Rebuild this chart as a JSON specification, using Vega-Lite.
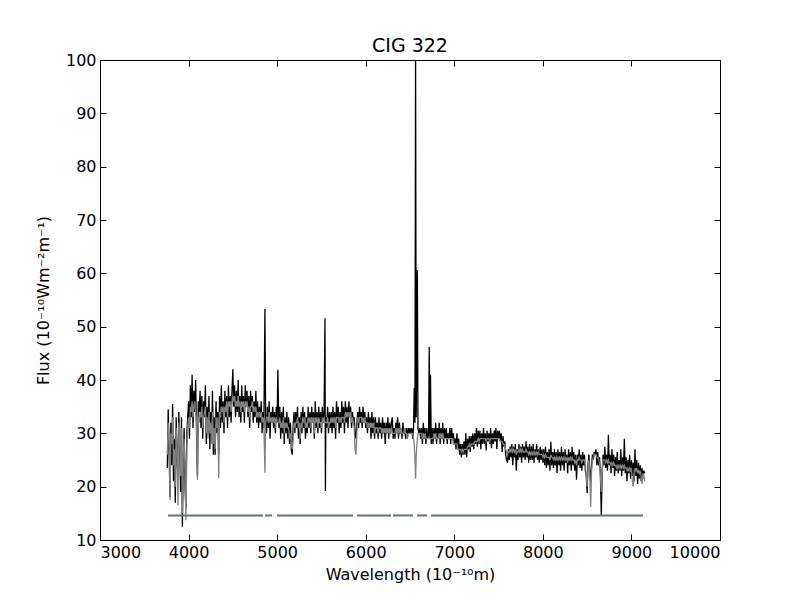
{
  "$schema": "https://vega.github.io/schema/vega-lite/v6.json",
  "width": 620,
  "height": 480,
  "autosize": {"type": "none"},
  "padding": {"left": 100, "top": 60, "right": 80, "bottom": 60},
  "background": "white",
  "title": {"text": "CIG 322", "font": "DejaVu Sans", "fontSize": 19, "fontWeight": "normal", "color": "black", "offset": -4},
  "config": {
    "view": {"stroke": "black", "strokeWidth": 1},
    "axis": {
      "grid": false,
      "domainColor": "black",
      "tickColor": "black",
      "tickSize": -6,
      "labelFont": "DejaVu Sans",
      "labelFontSize": 16,
      "labelColor": "black",
      "titleFont": "DejaVu Sans",
      "titleFontSize": 16,
      "titleFontWeight": "normal",
      "titleColor": "black"
    }
  },
  "datasets": {
    "spec": [
      {"w":3760,"o":23.5,"m":26},{"w":3770,"o":34.5,"m":32},{"w":3780,"o":27,"m":29},{"w":3790,"o":18,"m":17.5},
      {"w":3800,"o":32,"m":30},{"w":3810,"o":24,"m":28},{"w":3820,"o":35.5,"m":33},{"w":3830,"o":21,"m":24},
      {"w":3840,"o":29,"m":27},{"w":3850,"o":17,"m":20},{"w":3860,"o":33,"m":31},{"w":3870,"o":25,"m":27},
      {"w":3880,"o":22,"m":16.5},{"w":3890,"o":34,"m":32},{"w":3900,"o":28,"m":30},{"w":3910,"o":19,"m":22},
      {"w":3920,"o":33,"m":31},{"w":3930,"o":12.5,"m":15},{"w":3940,"o":24,"m":26},{"w":3950,"o":31,"m":29},
      {"w":3960,"o":20,"m":23},{"w":3970,"o":16,"m":13.7},{"w":3980,"o":30,"m":27},{"w":3990,"o":33,"m":31},
      {"w":4000,"o":36,"m":33},{"w":4010,"o":29,"m":31},{"w":4020,"o":39,"m":35},{"w":4030,"o":33,"m":34},
      {"w":4040,"o":41,"m":36},{"w":4050,"o":31,"m":33},{"w":4060,"o":38,"m":35},{"w":4070,"o":34,"m":36},
      {"w":4080,"o":40,"m":34},{"w":4090,"o":30,"m":32},{"w":4100,"o":22,"m":21.3},{"w":4110,"o":36,"m":33},
      {"w":4120,"o":34,"m":32},{"w":4130,"o":38,"m":34},{"w":4140,"o":31,"m":33},{"w":4150,"o":37,"m":35},
      {"w":4160,"o":29,"m":31},{"w":4170,"o":36,"m":33},{"w":4180,"o":33,"m":34},{"w":4190,"o":39,"m":35},
      {"w":4200,"o":28,"m":30},{"w":4210,"o":35,"m":33},{"w":4220,"o":30,"m":29},{"w":4230,"o":37,"m":34},
      {"w":4240,"o":27,"m":30},{"w":4250,"o":34,"m":32},{"w":4260,"o":29,"m":28},{"w":4270,"o":38,"m":34},
      {"w":4280,"o":26,"m":28},{"w":4290,"o":33,"m":31},{"w":4300,"o":26,"m":27},{"w":4310,"o":36,"m":33},
      {"w":4320,"o":30,"m":31},{"w":4330,"o":34,"m":33},{"w":4340,"o":26,"m":21.6},{"w":4350,"o":37,"m":34},
      {"w":4360,"o":31,"m":33},{"w":4370,"o":39,"m":35},{"w":4380,"o":32,"m":34},{"w":4390,"o":36,"m":35},
      {"w":4400,"o":30,"m":32},{"w":4410,"o":38,"m":35},{"w":4420,"o":33,"m":34},{"w":4430,"o":37,"m":36},
      {"w":4440,"o":31,"m":33},{"w":4450,"o":39,"m":36},{"w":4460,"o":33,"m":35},{"w":4470,"o":37,"m":36},
      {"w":4480,"o":32,"m":34},{"w":4490,"o":38,"m":36},{"w":4500,"o":42,"m":37},{"w":4510,"o":35,"m":36},
      {"w":4520,"o":39,"m":37},{"w":4530,"o":33,"m":35},{"w":4540,"o":38,"m":36},{"w":4550,"o":34,"m":35},
      {"w":4560,"o":40,"m":37},{"w":4570,"o":33,"m":35},{"w":4580,"o":37,"m":36},{"w":4590,"o":32,"m":34},
      {"w":4600,"o":39,"m":36},{"w":4610,"o":34,"m":35},{"w":4620,"o":37,"m":36},{"w":4630,"o":32,"m":34},
      {"w":4640,"o":39,"m":36},{"w":4650,"o":35,"m":35},{"w":4660,"o":38,"m":36},{"w":4670,"o":33,"m":34},
      {"w":4680,"o":37,"m":35},{"w":4690,"o":31,"m":33},{"w":4700,"o":38,"m":35},{"w":4710,"o":34,"m":35},
      {"w":4720,"o":37,"m":36},{"w":4730,"o":32,"m":34},{"w":4740,"o":36,"m":35},{"w":4750,"o":33,"m":34},
      {"w":4760,"o":38,"m":35},{"w":4770,"o":32,"m":33},{"w":4780,"o":36,"m":34},{"w":4790,"o":31,"m":33},
      {"w":4800,"o":35,"m":34},{"w":4810,"o":32,"m":33},{"w":4820,"o":36,"m":34},{"w":4830,"o":30,"m":32},
      {"w":4840,"o":34,"m":33},{"w":4850,"o":31,"m":32},{"w":4862,"o":53.3,"m":22.6},{"w":4870,"o":33,"m":32},
      {"w":4880,"o":30,"m":33},{"w":4890,"o":35,"m":33},{"w":4900,"o":31,"m":32},{"w":4910,"o":36,"m":34},
      {"w":4920,"o":29,"m":32},{"w":4930,"o":34,"m":33},{"w":4940,"o":32,"m":32},{"w":4950,"o":35,"m":33},
      {"w":4960,"o":31,"m":32},{"w":4970,"o":34,"m":33},{"w":4980,"o":30,"m":31},{"w":4990,"o":35,"m":33},
      {"w":5000,"o":32,"m":32},{"w":5008,"o":41.9,"m":32},{"w":5020,"o":31,"m":32},{"w":5030,"o":35,"m":33},
      {"w":5040,"o":29,"m":31},{"w":5050,"o":34,"m":32},{"w":5060,"o":30,"m":31},{"w":5070,"o":35,"m":33},
      {"w":5080,"o":28,"m":30},{"w":5090,"o":33,"m":32},{"w":5100,"o":30,"m":31},{"w":5110,"o":34,"m":32},
      {"w":5120,"o":29,"m":31},{"w":5130,"o":33,"m":31},{"w":5140,"o":28,"m":29},{"w":5150,"o":32,"m":30},
      {"w":5160,"o":27,"m":28},{"w":5170,"o":26,"m":27},{"w":5180,"o":31,"m":29},{"w":5190,"o":34,"m":32},
      {"w":5200,"o":30,"m":31},{"w":5210,"o":34,"m":32},{"w":5220,"o":31,"m":32},{"w":5230,"o":35,"m":33},
      {"w":5240,"o":29,"m":31},{"w":5250,"o":33,"m":32},{"w":5260,"o":28,"m":29},{"w":5270,"o":34,"m":32},
      {"w":5280,"o":30,"m":31},{"w":5290,"o":35,"m":33},{"w":5300,"o":31,"m":32},{"w":5310,"o":34,"m":33},
      {"w":5320,"o":29,"m":31},{"w":5330,"o":33,"m":32},{"w":5340,"o":30,"m":31},{"w":5350,"o":35,"m":33},
      {"w":5360,"o":31,"m":32},{"w":5370,"o":34,"m":33},{"w":5380,"o":30,"m":31},{"w":5390,"o":35,"m":33},
      {"w":5400,"o":32,"m":32},{"w":5410,"o":34,"m":33},{"w":5420,"o":29,"m":30},{"w":5430,"o":36,"m":33},
      {"w":5440,"o":31,"m":32},{"w":5450,"o":34,"m":33},{"w":5460,"o":30,"m":31},{"w":5470,"o":35,"m":33},
      {"w":5480,"o":31,"m":32},{"w":5490,"o":34,"m":32},{"w":5500,"o":30,"m":31},{"w":5510,"o":35,"m":33},
      {"w":5520,"o":32,"m":32},{"w":5530,"o":34,"m":33},{"w":5540,"o":51.6,"m":32},{"w":5545,"o":19.2,"m":32},
      {"w":5550,"o":33,"m":32},{"w":5560,"o":31,"m":32},{"w":5570,"o":35,"m":33},{"w":5580,"o":30,"m":31},
      {"w":5590,"o":34,"m":32},{"w":5600,"o":31,"m":32},{"w":5610,"o":34,"m":33},{"w":5620,"o":30,"m":32},
      {"w":5630,"o":35,"m":33},{"w":5640,"o":31,"m":32},{"w":5650,"o":34,"m":33},{"w":5660,"o":29,"m":31},
      {"w":5670,"o":36,"m":33},{"w":5680,"o":32,"m":33},{"w":5690,"o":35,"m":33},{"w":5700,"o":30,"m":32},
      {"w":5710,"o":34,"m":33},{"w":5720,"o":31,"m":32},{"w":5730,"o":36,"m":33},{"w":5740,"o":32,"m":33},
      {"w":5750,"o":35,"m":33},{"w":5760,"o":30,"m":32},{"w":5770,"o":36,"m":34},{"w":5780,"o":32,"m":33},
      {"w":5790,"o":35,"m":34},{"w":5800,"o":31,"m":33},{"w":5810,"o":36,"m":34},{"w":5820,"o":33,"m":33},
      {"w":5830,"o":35,"m":34},{"w":5840,"o":31,"m":32},{"w":5850,"o":34,"m":33},{"w":5860,"o":32,"m":32},
      {"w":5870,"o":33,"m":31},{"w":5880,"o":30,"m":27},{"w":5890,"o":29,"m":26},{"w":5900,"o":32,"m":30},
      {"w":5910,"o":34,"m":33},{"w":5920,"o":31,"m":32},{"w":5930,"o":35,"m":33},{"w":5940,"o":32,"m":33},
      {"w":5950,"o":34,"m":33},{"w":5960,"o":31,"m":32},{"w":5970,"o":35,"m":33},{"w":5980,"o":32,"m":32},
      {"w":5990,"o":34,"m":33},{"w":6000,"o":31,"m":32},{"w":6010,"o":33,"m":32},{"w":6020,"o":30,"m":31},
      {"w":6030,"o":34,"m":32},{"w":6040,"o":31,"m":31},{"w":6050,"o":33,"m":32},{"w":6060,"o":29,"m":31},
      {"w":6070,"o":34,"m":32},{"w":6080,"o":30,"m":31},{"w":6090,"o":33,"m":32},{"w":6100,"o":29,"m":30},
      {"w":6110,"o":33,"m":31},{"w":6120,"o":30,"m":31},{"w":6130,"o":32,"m":31},{"w":6140,"o":29,"m":30},
      {"w":6150,"o":33,"m":31},{"w":6160,"o":30,"m":31},{"w":6170,"o":32,"m":31},{"w":6180,"o":29,"m":30},
      {"w":6190,"o":33,"m":31},{"w":6200,"o":30,"m":30},{"w":6210,"o":32,"m":31},{"w":6220,"o":28,"m":30},
      {"w":6230,"o":32,"m":31},{"w":6240,"o":30,"m":30},{"w":6250,"o":33,"m":31},{"w":6260,"o":29,"m":30},
      {"w":6270,"o":32,"m":31},{"w":6280,"o":30,"m":30},{"w":6290,"o":32,"m":31},{"w":6300,"o":33,"m":30},
      {"w":6310,"o":29,"m":30},{"w":6320,"o":31,"m":30},{"w":6330,"o":29,"m":30},{"w":6340,"o":32,"m":31},
      {"w":6350,"o":30,"m":30},{"w":6360,"o":33,"m":31},{"w":6370,"o":29,"m":30},{"w":6380,"o":32,"m":31},
      {"w":6390,"o":30,"m":30},{"w":6400,"o":31,"m":31},{"w":6410,"o":29,"m":30},{"w":6420,"o":32,"m":30},
      {"w":6430,"o":30,"m":30},{"w":6440,"o":31,"m":31},{"w":6450,"o":29,"m":30},{"w":6460,"o":31,"m":30},
      {"w":6470,"o":29,"m":29},{"w":6480,"o":31,"m":30},{"w":6490,"o":30,"m":30},{"w":6500,"o":31,"m":30},
      {"w":6510,"o":30,"m":30},{"w":6520,"o":31,"m":30},{"w":6530,"o":29,"m":30},{"w":6540,"o":31,"m":29},
      {"w":6548,"o":38.5,"m":28},{"w":6556,"o":32,"m":25},{"w":6563,"o":101,"m":21.5},{"w":6570,"o":33,"m":26},
      {"w":6583,"o":60.6,"m":29},{"w":6590,"o":31,"m":30},{"w":6600,"o":30,"m":30},{"w":6610,"o":31,"m":30},
      {"w":6620,"o":29,"m":30},{"w":6630,"o":31,"m":30},{"w":6640,"o":28,"m":29},{"w":6650,"o":32,"m":30},
      {"w":6660,"o":29,"m":29},{"w":6670,"o":31,"m":30},{"w":6680,"o":28,"m":29},{"w":6690,"o":31,"m":29},
      {"w":6700,"o":29,"m":29},{"w":6710,"o":30,"m":29},{"w":6717,"o":46.2,"m":29},{"w":6725,"o":29,"m":29},
      {"w":6731,"o":41,"m":29},{"w":6740,"o":28,"m":29},{"w":6750,"o":31,"m":29},{"w":6760,"o":28,"m":29},
      {"w":6770,"o":31,"m":30},{"w":6780,"o":29,"m":29},{"w":6790,"o":32,"m":30},{"w":6800,"o":28,"m":29},
      {"w":6810,"o":31,"m":29},{"w":6820,"o":29,"m":29},{"w":6830,"o":32,"m":30},{"w":6840,"o":28,"m":29},
      {"w":6850,"o":31,"m":30},{"w":6860,"o":29,"m":29},{"w":6870,"o":32,"m":30},{"w":6880,"o":28,"m":29},
      {"w":6890,"o":31,"m":29},{"w":6900,"o":29,"m":29},{"w":6910,"o":31,"m":29},{"w":6920,"o":28,"m":29},
      {"w":6930,"o":30,"m":29},{"w":6940,"o":29,"m":29},{"w":6950,"o":31,"m":29},{"w":6960,"o":28,"m":29},
      {"w":6970,"o":31,"m":29},{"w":6980,"o":29,"m":29},{"w":6990,"o":30,"m":28},{"w":7000,"o":28,"m":28},
      {"w":7010,"o":29,"m":28},{"w":7020,"o":27,"m":28},{"w":7030,"o":30,"m":28},{"w":7040,"o":27,"m":27},
      {"w":7050,"o":29,"m":27},{"w":7060,"o":26,"m":27},{"w":7070,"o":28,"m":27},{"w":7080,"o":25.5,"m":26.5},
      {"w":7090,"o":28,"m":27},{"w":7100,"o":26,"m":26.5},{"w":7110,"o":28.5,"m":27},{"w":7120,"o":26,"m":27},
      {"w":7130,"o":30,"m":27},{"w":7140,"o":25.5,"m":27},{"w":7150,"o":29,"m":27.5},{"w":7160,"o":27,"m":27.5},
      {"w":7170,"o":29.5,"m":28},{"w":7180,"o":26.5,"m":27.5},{"w":7190,"o":29.5,"m":28},{"w":7200,"o":27.5,"m":28},
      {"w":7210,"o":30,"m":28},{"w":7220,"o":27,"m":28},{"w":7230,"o":30,"m":28.5},{"w":7240,"o":28,"m":28.5},
      {"w":7250,"o":31,"m":28.5},{"w":7260,"o":27.5,"m":28.5},{"w":7270,"o":30.5,"m":29},{"w":7280,"o":28,"m":28.5},
      {"w":7290,"o":30.5,"m":29},{"w":7300,"o":27,"m":29},{"w":7310,"o":30,"m":29},{"w":7320,"o":28,"m":29},
      {"w":7330,"o":31,"m":29},{"w":7340,"o":28,"m":29},{"w":7350,"o":30,"m":29},{"w":7360,"o":26.8,"m":28.5},
      {"w":7370,"o":30.5,"m":29},{"w":7380,"o":28.5,"m":29},{"w":7390,"o":30,"m":29},{"w":7400,"o":28,"m":28.5},
      {"w":7410,"o":31,"m":29},{"w":7420,"o":27.2,"m":29},{"w":7430,"o":30,"m":29},{"w":7440,"o":28,"m":29},
      {"w":7450,"o":30.5,"m":29},{"w":7460,"o":28.5,"m":29},{"w":7470,"o":31,"m":29},{"w":7480,"o":27,"m":29},
      {"w":7490,"o":30.5,"m":29},{"w":7500,"o":29,"m":29},{"w":7510,"o":30.5,"m":29},{"w":7520,"o":28.5,"m":28.5},
      {"w":7530,"o":30,"m":28.5},{"w":7540,"o":26.5,"m":28.5},{"w":7550,"o":29.5,"m":28},{"w":7560,"o":27.5,"m":28},
      {"w":7570,"o":28.5,"m":27.5},{"w":7580,"o":26,"m":27},{"w":7590,"o":25,"m":26.5},{"w":7600,"o":24.5,"m":26},
      {"w":7610,"o":27,"m":26.5},{"w":7620,"o":25,"m":26.5},{"w":7630,"o":27.5,"m":27},{"w":7640,"o":25.5,"m":26.5},
      {"w":7650,"o":28,"m":27},{"w":7660,"o":24,"m":26.5},{"w":7670,"o":27.5,"m":27},{"w":7680,"o":25.5,"m":26.5},
      {"w":7690,"o":28,"m":27},{"w":7700,"o":23,"m":26},{"w":7710,"o":27,"m":26.5},{"w":7720,"o":25,"m":26.5},
      {"w":7730,"o":28,"m":27},{"w":7740,"o":25.5,"m":26.5},{"w":7750,"o":27.5,"m":27},{"w":7760,"o":24.5,"m":26.5},
      {"w":7770,"o":28,"m":27},{"w":7780,"o":25.5,"m":26.5},{"w":7790,"o":27.5,"m":26.5},{"w":7800,"o":25,"m":26.5},
      {"w":7810,"o":28.5,"m":27},{"w":7820,"o":25.5,"m":26.5},{"w":7830,"o":27.5,"m":26.5},{"w":7840,"o":24.5,"m":26},
      {"w":7850,"o":28,"m":26.5},{"w":7860,"o":25,"m":26},{"w":7870,"o":27.5,"m":26.5},{"w":7880,"o":25,"m":26},
      {"w":7890,"o":28,"m":26.5},{"w":7900,"o":24.5,"m":26},{"w":7910,"o":27,"m":26.5},{"w":7920,"o":25.5,"m":26},
      {"w":7930,"o":28,"m":26.5},{"w":7940,"o":25,"m":26},{"w":7950,"o":27,"m":26.5},{"w":7960,"o":24.5,"m":26},
      {"w":7970,"o":27.5,"m":26},{"w":7980,"o":25,"m":26},{"w":7990,"o":27,"m":26},{"w":8000,"o":24.5,"m":25.5},
      {"w":8010,"o":27,"m":26},{"w":8020,"o":24,"m":25.5},{"w":8030,"o":27.5,"m":26},{"w":8040,"o":23.5,"m":25.5},
      {"w":8050,"o":26.5,"m":25.5},{"w":8060,"o":24,"m":25.5},{"w":8070,"o":27,"m":25.5},{"w":8080,"o":23,"m":25},
      {"w":8090,"o":28.4,"m":26},{"w":8100,"o":24,"m":25.5},{"w":8110,"o":26.5,"m":25.5},{"w":8120,"o":23.5,"m":25},
      {"w":8130,"o":27,"m":25.5},{"w":8140,"o":24,"m":25},{"w":8150,"o":26.5,"m":25.5},{"w":8160,"o":22.5,"m":25},
      {"w":8170,"o":27,"m":25.5},{"w":8180,"o":24,"m":25},{"w":8190,"o":26.5,"m":25.5},{"w":8200,"o":23,"m":25},
      {"w":8210,"o":27.5,"m":25.5},{"w":8220,"o":24,"m":25},{"w":8230,"o":26.5,"m":25.5},{"w":8240,"o":23,"m":25},
      {"w":8250,"o":27,"m":25.5},{"w":8260,"o":24.5,"m":25},{"w":8270,"o":26,"m":25.5},{"w":8280,"o":22.5,"m":24.5},
      {"w":8290,"o":27,"m":25.5},{"w":8300,"o":24,"m":25},{"w":8310,"o":26.5,"m":25.5},{"w":8320,"o":23,"m":25},
      {"w":8330,"o":27.5,"m":25.5},{"w":8340,"o":24,"m":25},{"w":8350,"o":26.5,"m":25},{"w":8360,"o":23,"m":24.5},
      {"w":8370,"o":26,"m":25},{"w":8380,"o":21.3,"m":24},{"w":8390,"o":26,"m":25},{"w":8400,"o":24,"m":25},
      {"w":8410,"o":27,"m":25.5},{"w":8420,"o":23.5,"m":25},{"w":8430,"o":26,"m":25},{"w":8440,"o":23,"m":24.5},
      {"w":8450,"o":26.5,"m":25},{"w":8460,"o":24,"m":25},{"w":8470,"o":26,"m":25},{"w":8480,"o":23,"m":24},
      {"w":8490,"o":22,"m":22},{"w":8500,"o":18.8,"m":20},{"w":8510,"o":24,"m":24},{"w":8520,"o":26,"m":25},
      {"w":8530,"o":23,"m":22},{"w":8540,"o":21,"m":16.2},{"w":8550,"o":24,"m":23},{"w":8560,"o":26,"m":25},
      {"w":8570,"o":25,"m":25.5},{"w":8580,"o":26.5,"m":26},{"w":8590,"o":26,"m":26},{"w":8600,"o":27,"m":26},
      {"w":8610,"o":24,"m":25.5},{"w":8620,"o":26.5,"m":25.5},{"w":8630,"o":24,"m":25},{"w":8640,"o":25.5,"m":24.5},
      {"w":8650,"o":22,"m":22},{"w":8660,"o":14.7,"m":19},{"w":8670,"o":23,"m":23},{"w":8680,"o":26,"m":25},
      {"w":8690,"o":24,"m":25},{"w":8700,"o":27.5,"m":25},{"w":8710,"o":23.5,"m":24.5},{"w":8720,"o":26,"m":25},
      {"w":8730,"o":23,"m":24.5},{"w":8740,"o":29.7,"m":25},{"w":8750,"o":24,"m":24.5},{"w":8760,"o":26,"m":24.5},
      {"w":8770,"o":22.5,"m":24},{"w":8780,"o":27,"m":24.5},{"w":8790,"o":23.5,"m":24},{"w":8800,"o":26,"m":24.5},
      {"w":8810,"o":22,"m":24},{"w":8820,"o":25.5,"m":24},{"w":8830,"o":23,"m":23.5},{"w":8840,"o":26.5,"m":24},
      {"w":8850,"o":22.5,"m":23.5},{"w":8860,"o":25,"m":24},{"w":8870,"o":23,"m":23.5},{"w":8880,"o":27,"m":24},
      {"w":8890,"o":22,"m":23.5},{"w":8900,"o":25.5,"m":24},{"w":8910,"o":23,"m":23.5},{"w":8920,"o":29,"m":24},
      {"w":8930,"o":22.5,"m":23.5},{"w":8940,"o":25.5,"m":23.5},{"w":8950,"o":21,"m":23},{"w":8960,"o":25,"m":23.5},
      {"w":8970,"o":22.5,"m":23},{"w":8980,"o":26,"m":23.5},{"w":8990,"o":21.5,"m":23},{"w":9000,"o":25,"m":23.5},
      {"w":9010,"o":22,"m":21},{"w":9020,"o":24.5,"m":20},{"w":9030,"o":21,"m":22.5},{"w":9040,"o":27,"m":23.5},
      {"w":9050,"o":22,"m":23},{"w":9060,"o":25,"m":23.5},{"w":9070,"o":20.5,"m":22.5},{"w":9080,"o":24.5,"m":23},
      {"w":9090,"o":21.5,"m":22.5},{"w":9100,"o":24,"m":23},{"w":9110,"o":21,"m":22},{"w":9120,"o":23.5,"m":20.5},
      {"w":9130,"o":21.5,"m":22.5},{"w":9140,"o":23,"m":22},{"w":9150,"o":22.5,"m":21}
    ],
    "mask": [
      {"a":3768,"b":4842,"v":14.6},{"a":4863,"b":4942,"v":14.6},{"a":4998,"b":5857,"v":14.6},
      {"a":5902,"b":6286,"v":14.6},{"a":6308,"b":6534,"v":14.6},{"a":6579,"b":6692,"v":14.6},
      {"a":6737,"b":9131,"v":14.6}
    ]
  },
  "layer": [
    {
      "data": {"name": "spec"},
      "mark": {"type": "line", "color": "black", "strokeWidth": 1.3, "clip": true},
      "encoding": {
        "x": {"field": "w", "type": "quantitative", "scale": {"domain": [3000, 10000], "nice": false, "zero": false},
              "axis": {"values": [3000,4000,5000,6000,7000,8000,9000,10000], "title": "Wavelength (10⁻¹⁰m)", "labelPadding": 10, "titlePadding": 6, "format": "d"}},
        "y": {"field": "o", "type": "quantitative", "scale": {"domain": [10, 100], "nice": false, "zero": false},
              "axis": {"values": [10,20,30,40,50,60,70,80,90,100], "title": "Flux (10⁻¹⁰Wm⁻²m⁻¹)", "labelPadding": 10, "titlePadding": 14}}
      }
    },
    {
      "data": {"name": "spec"},
      "mark": {"type": "line", "color": "gray", "strokeWidth": 1.3, "clip": true},
      "encoding": {
        "x": {"field": "w", "type": "quantitative", "axis": null},
        "y": {"field": "m", "type": "quantitative", "axis": null}
      }
    },
    {
      "data": {"name": "mask"},
      "mark": {"type": "rule", "color": "#627379", "strokeWidth": 2},
      "encoding": {
        "x": {"field": "a", "type": "quantitative", "axis": {"orient": "top", "values": [3000,4000,5000,6000,7000,8000,9000,10000], "labels": false, "title": null}},
        "x2": {"field": "b"},
        "y": {"field": "v", "type": "quantitative", "axis": {"orient": "right", "values": [10,20,30,40,50,60,70,80,90,100], "labels": false, "title": null}}
      }
    }
  ],
  "resolve": {"axis": {"x": "independent", "y": "independent"}}
}
